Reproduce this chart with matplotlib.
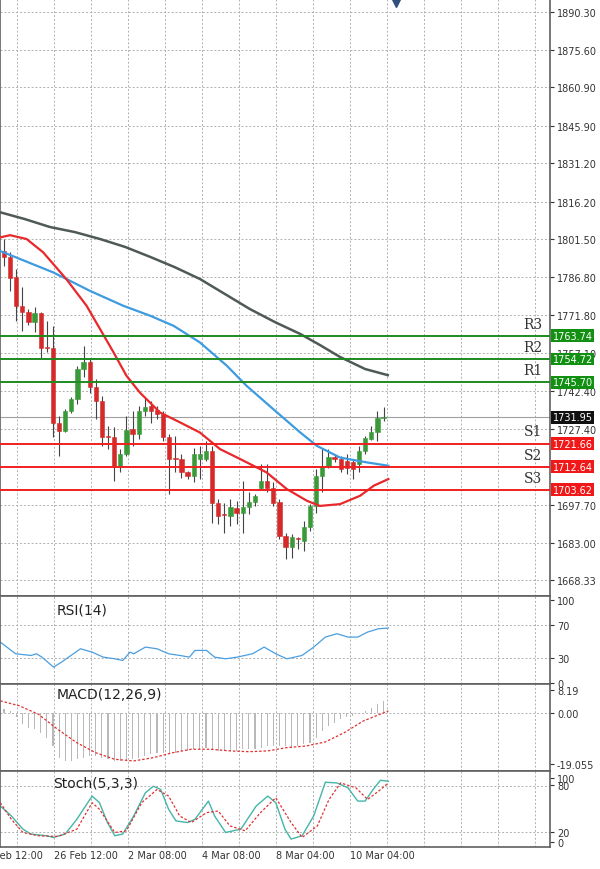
import matplotlib

matplotlib.use("Agg")
import matplotlib.pyplot as plt
from matplotlib.transforms import blended_transform_factory
import numpy as np

# candles: open, close, high, low (one per 4h bar)
opens = [1797.0, 1794.4, 1786.6, 1775.5, 1773.2, 1769.3, 1772.7, 1759.5, 1759.2, 1729.9,
         1726.7, 1734.5, 1739.0, 1750.8, 1753.6, 1743.6, 1738.4, 1724.7, 1724.4, 1713.0,
         1717.5, 1727.3, 1725.4, 1734.5, 1736.2, 1734.9, 1733.2, 1724.1, 1716.1, 1715.8,
         1710.4, 1709.1, 1715.8, 1715.6, 1718.8, 1698.6, 1694.3, 1693.4, 1696.3, 1694.7,
         1696.7, 1698.9, 1704.5, 1707.1, 1704.5, 1698.9, 1685.6, 1681.1, 1684.8, 1683.7,
         1688.9, 1697.3, 1709.1, 1713.0, 1716.6, 1715.6, 1714.9, 1714.3, 1713.6, 1718.8,
         1723.4, 1726.0, 1731.5]
closes = [1794.4, 1786.2, 1775.3, 1773.2, 1769.3, 1772.7, 1759.2, 1759.0, 1729.9, 1726.7,
          1734.5, 1739.0, 1751.0, 1753.6, 1743.6, 1738.4, 1724.1, 1724.2, 1713.0, 1717.5,
          1727.1, 1725.4, 1734.5, 1735.8, 1734.5, 1733.2, 1724.1, 1715.8, 1715.6, 1710.4,
          1709.1, 1717.5, 1717.5, 1718.8, 1698.6, 1693.4, 1693.8, 1696.7, 1694.7, 1696.7,
          1698.9, 1701.0, 1707.1, 1704.5, 1698.6, 1685.6, 1681.1, 1685.0, 1684.3, 1688.9,
          1697.3, 1709.1, 1713.0, 1716.6, 1715.6, 1711.9, 1712.3, 1711.7, 1718.8, 1723.7,
          1726.0, 1731.5, 1731.9]
highs = [1801.6, 1796.4, 1789.9, 1782.7, 1774.2, 1774.9, 1772.9, 1769.7, 1767.7, 1732.5,
         1735.1, 1739.7, 1752.1, 1759.9, 1755.3, 1746.9, 1740.3, 1728.6, 1728.0, 1719.5,
         1732.5, 1734.5, 1736.4, 1739.7, 1738.4, 1736.4, 1734.5, 1725.4, 1724.7, 1717.5,
         1711.0, 1720.1, 1720.8, 1722.8, 1720.8, 1699.9, 1698.6, 1699.9, 1699.3, 1707.1,
         1702.6, 1701.9, 1713.6, 1713.6, 1706.5, 1699.9, 1686.9, 1686.3, 1685.0, 1691.5,
         1698.0, 1711.7, 1720.1, 1719.5, 1717.5, 1716.9, 1717.5, 1715.6, 1720.8, 1724.7,
         1728.6, 1734.5, 1735.8]
lows = [1791.2, 1781.4, 1769.7, 1765.8, 1768.0, 1765.1, 1755.3, 1757.3, 1724.1, 1716.9,
        1726.0, 1733.8, 1737.1, 1747.5, 1741.6, 1731.2, 1720.8, 1719.5, 1707.1, 1710.4,
        1716.9, 1720.8, 1723.4, 1732.5, 1729.9, 1731.2, 1722.8, 1701.9, 1710.4, 1708.4,
        1708.0, 1706.5, 1707.8, 1714.9, 1690.8, 1690.2, 1686.9, 1689.5, 1690.2, 1686.9,
        1694.1, 1697.3, 1703.9, 1702.6, 1697.3, 1684.3, 1676.5, 1677.1, 1680.4, 1679.8,
        1687.6, 1694.7, 1702.6, 1712.3, 1714.3, 1710.4, 1709.7, 1707.8, 1710.4, 1717.5,
        1723.1, 1722.8, 1730.6]

# moving averages, sampled at bar positions
ma_slow_x = [-0.7, 3.4, 7.5, 11.6, 15.7, 19.8, 23.9, 27.9, 32.0, 36.1, 40.2, 44.3, 48.4,
             51.6, 54.9, 59.0, 62.7]
ma_slow = [1812.1, 1809.4, 1806.3, 1804.3, 1801.6, 1798.5, 1794.6, 1790.6, 1786.0, 1780.1,
           1774.2, 1769.1, 1764.5, 1760.2, 1755.5, 1750.8, 1748.4]
ma_mid_x = [-0.7, 8.1, 14.0, 19.5, 23.9, 27.7, 32.0, 36.4, 39.6, 44.0, 48.4, 51.1, 54.9, 59.3, 62.8]
ma_mid = [1797.0, 1788.5, 1781.4, 1775.5, 1771.6, 1767.7, 1761.2, 1752.1, 1744.3, 1735.1,
          1726.0, 1720.8, 1716.2, 1714.3, 1713.0]
ma_fast_x = [-0.7, 1.0, 3.7, 6.4, 10.2, 13.5, 15.7, 17.9, 20.0, 22.2, 25.5, 28.8, 32.0, 35.3,
             38.6, 42.9, 46.2, 49.5, 51.6, 54.9, 58.2, 60.4, 62.8]
ma_fast = [1802.2, 1803.1, 1801.6, 1796.4, 1785.9, 1775.5, 1766.4, 1757.3, 1748.2, 1741.6,
           1733.8, 1729.9, 1726.0, 1719.5, 1715.6, 1710.4, 1703.9, 1699.3, 1697.3, 1698.0,
           1701.3, 1705.2, 1707.8]

resist_names = ["R3", "R2", "R1"]
resist_levels = [1763.74, 1754.72, 1745.70]
support_names = ["S1", "S2", "S3"]
support_levels = [1721.66, 1712.64, 1703.62]
last_price = 1731.95

price_ticks = [1890.30, 1875.60, 1860.90, 1845.90, 1831.20, 1816.20, 1801.50, 1786.80,
               1771.80, 1757.10, 1742.40, 1727.40, 1697.70, 1683.00, 1668.33]

rsi_x = [-0.6, 1.9, 4.4, 5.3, 6.2, 8.1, 9.4, 12.5, 14.4, 16.2, 18.1, 19.4, 20.6, 21.2, 23.1,
         25.0, 26.9, 28.7, 30.3, 31.2, 33.1, 34.4, 36.2, 38.1, 40.6, 42.5, 44.4, 46.2, 47.5,
         48.7, 50.6, 52.5, 54.4, 56.2, 57.8, 59.4, 61.2, 62.8]
rsi = [49.2, 35.2, 33.2, 35.2, 31.2, 19.2, 25.2, 41.2, 37.2, 31.2, 29.2, 27.2, 37.2, 35.2,
       43.2, 41.2, 35.2, 33.2, 31.2, 39.2, 39.2, 31.2, 29.2, 31.2, 35.2, 43.2, 35.2, 29.2,
       31.2, 33.2, 43.2, 55.2, 59.2, 55.2, 55.2, 61.2, 65.2, 66.0]

macd_hist = [1.2, 0.6, -1.8, -4.3, -5.5, -6.2, -7.4, -9.2, -12.3, -16.6, -17.8, -17.8, -17.2,
             -16.6, -16.0, -16.0, -16.6, -17.2, -17.8, -17.8, -17.8, -17.2, -16.6, -16.0,
             -15.4, -14.8, -14.8, -14.8, -14.8, -14.1, -14.1, -13.5, -13.5, -12.9, -13.5,
             -14.1, -14.1, -14.1, -14.1, -13.5, -13.5, -13.5, -12.9, -12.3, -12.3, -12.3,
             -12.3, -12.9, -12.3, -11.7, -11.1, -9.2, -6.8, -4.9, -3.7, -2.5, -1.8, -1.2,
             -0.6, 0.6, 1.8, 3.1, 4.3]
macd_sig_x = [-0.6, 2.5, 5.6, 8.8, 11.9, 15.0, 18.1, 21.2, 24.4, 27.5, 30.6, 33.7, 36.9, 40.0,
              43.1, 46.2, 49.4, 52.5, 55.6, 58.7, 62.8]
macd_sig = [4.3, 2.5, -0.6, -6.2, -11.1, -14.8, -17.2, -17.8, -16.6, -14.8, -13.5, -13.5,
            -14.1, -14.4, -14.1, -12.9, -12.3, -10.8, -7.4, -3.1, 0.6]

stoch_k_x = [-0.6, 1.2, 3.1, 4.4, 6.9, 8.1, 10.0, 11.9, 14.4, 15.6, 16.9, 18.1, 19.4, 21.2,
             23.1, 24.4, 25.6, 26.9, 28.1, 30.0, 31.2, 33.4, 34.4, 36.2, 38.7, 41.2, 43.1,
             44.4, 45.9, 46.9, 48.7, 50.6, 52.5, 54.4, 56.2, 57.8, 59.0, 60.3, 61.5, 62.8]
stoch_k = [53.9, 40.9, 23.5, 17.0, 14.8, 12.6, 17.0, 36.5, 67.0, 58.3, 32.2, 14.8, 17.0,
           40.9, 71.3, 80.0, 75.7, 49.6, 34.3, 32.2, 36.5, 60.4, 40.9, 19.1, 23.5, 53.9,
           67.0, 58.3, 23.5, 10.4, 14.8, 40.9, 85.2, 84.3, 77.8, 60.4, 60.4, 75.7, 87.8, 86.5]
stoch_d_x = [-0.6, 1.2, 3.1, 5.6, 8.8, 11.9, 14.4, 15.6, 18.1, 20.0, 22.5, 25.0, 26.9, 28.7,
             30.6, 33.1, 35.0, 36.9, 39.4, 41.9, 44.4, 46.9, 48.7, 51.2, 53.1, 55.0, 57.5,
             59.4, 61.2, 62.8]
stoch_d = [58.3, 36.5, 19.1, 14.8, 13.9, 23.5, 58.3, 49.6, 19.1, 21.3, 58.3, 75.7, 67.0,
           40.9, 32.2, 45.2, 47.4, 27.8, 21.3, 45.2, 64.8, 32.2, 12.6, 27.8, 62.6, 84.3,
           77.8, 62.6, 73.5, 84.3]

date_labels = ["24 Feb 12:00", "26 Feb 12:00", "2 Mar 08:00", "4 Mar 08:00", "8 Mar 04:00",
               "10 Mar 04:00"]

UP = "#3a9a3a"
DOWN = "#d42a2a"
GRID = "#b0b0b0"
FRAME = "#606060"
XLIM = (-0.65, 89.2)
grid_x = 2.1 + 6.05 * np.arange(15)
label_x = [-4.0, 8.2, 20.3, 32.4, 44.4, 56.5]

W, H = 600, 870
fig = plt.figure(figsize=(W / 100, H / 100), dpi=100)
fig.patch.set_facecolor("white")


def panel(top, bottom):
    ax = fig.add_axes([0, 1 - bottom / H, 550 / W, (bottom - top) / H])
    ax.set_xlim(*XLIM)
    ax.set_xticks([])
    ax.yaxis.tick_right()
    ax.tick_params(axis="y", length=3, pad=2, labelsize=7, colors="#333333")
    for s in ax.spines.values():
        s.set_color(FRAME)
        s.set_linewidth(1.2)
    for gx in grid_x:
        ax.axvline(gx, color=GRID, lw=0.7, ls=(0, (2, 2)), zorder=0)
    return ax


# main price panel
ax = panel(0, 597)
ax.set_ylim(1662.1, 1895.4)
ax.set_yticks(price_ticks)
ax.set_yticklabels([f"{t:.2f}" for t in price_ticks])
for t in price_ticks:
    ax.axhline(t, color=GRID, lw=0.7, ls=(0, (2, 2)), zorder=0)

idx = np.arange(len(opens))
for i, o, c, h, l in zip(idx, opens, closes, highs, lows):
    col = UP if c >= o else DOWN
    ax.vlines(i, l, h, color="#444444", lw=0.8, zorder=2)
    body = max(abs(c - o), 0.3)
    ax.bar(i, body, bottom=min(o, c), width=0.7, color=col, edgecolor=col,
           linewidth=0.4, zorder=3)

ax.plot(ma_slow_x, ma_slow, color="#505a55", lw=1.8, zorder=4)
ax.plot(ma_mid_x, ma_mid, color="#3d9be0", lw=1.6, zorder=4)
ax.plot(ma_fast_x, ma_fast, color="#e8282a", lw=1.6, zorder=4)

ax.axhline(last_price, color="#a0a0a0", lw=0.8, zorder=1)
trans = blended_transform_factory(ax.transAxes, ax.transData)
for name, lvl in zip(resist_names, resist_levels):
    ax.axhline(lvl, color="#1f8a1f", lw=1.4, zorder=5)
    ax.text(86.4, lvl + 2.0, name, fontsize=10, family="DejaVu Serif", color="#333333",
            ha="center", va="bottom")
    ax.text(1.005, lvl, f"{lvl:.2f}", transform=trans, fontsize=7, color="white",
            va="center", ha="left", bbox=dict(boxstyle="square,pad=0.15", fc="#129012", ec="none"))
for name, lvl in zip(support_names, support_levels):
    ax.axhline(lvl, color="#f02020", lw=1.4, zorder=5)
    ax.text(86.4, lvl + 2.0, name, fontsize=10, family="DejaVu Serif", color="#333333",
            ha="center", va="bottom")
    ax.text(1.005, lvl, f"{lvl:.2f}", transform=trans, fontsize=7, color="white",
            va="center", ha="left", bbox=dict(boxstyle="square,pad=0.15", fc="#f01818", ec="none"))
ax.text(1.005, last_price, f"{last_price:.2f}", transform=trans, fontsize=7, color="white",
        va="center", ha="left", bbox=dict(boxstyle="square,pad=0.15", fc="#101010", ec="none"))
ax.plot([64.0], [1894.0], marker="v", color="#2f4f7f", ms=6, clip_on=False, zorder=6)

# RSI
ax_rsi = panel(597, 685)
ax_rsi.set_ylim(-1, 104.4)
ax_rsi.set_yticks([100, 70, 30, 0])
for t in (70, 30):
    ax_rsi.axhline(t, color=GRID, lw=0.7, ls=(0, (2, 2)), zorder=0)
ax_rsi.plot(rsi_x, rsi, color="#4a9ee0", lw=0.9)
ax_rsi.text(8.6, 97, "RSI(14)", fontsize=10, va="top", color="#222222")

# MACD
ax_macd = panel(685, 772)
ax_macd.set_ylim(-21.5, 10.5)
ax_macd.set_yticks([8.19, 0.0, -19.055])
ax_macd.set_yticklabels(["8.19", "0.00", "-19.055"])
ax_macd.axhline(0, color=GRID, lw=0.7, ls=(0, (2, 2)), zorder=0)
ax_macd.bar(idx, macd_hist, width=0.18, color="#b8b8b8", zorder=1)
ax_macd.plot(macd_sig_x, macd_sig, color="#e03030", lw=0.9, ls=(0, (2, 1.5)), zorder=2)
ax_macd.text(8.6, 9.3, "MACD(12,26,9)", fontsize=10, va="top", color="#222222")

# Stochastic
ax_st = panel(772, 848)
ax_st.set_ylim(0, 100)
ax_st.set_yticks([91, 82, 20, 7])
ax_st.set_yticklabels(["100", "80", "20", "0"])
for t in (80, 20):
    ax_st.axhline(t, color=GRID, lw=0.7, ls=(0, (2, 2)), zorder=0)
ax_st.plot(stoch_k_x, stoch_k, color="#45b5a8", lw=1.0)
ax_st.plot(stoch_d_x, stoch_d, color="#e03030", lw=0.9, ls=(0, (2, 1.5)))
ax_st.text(8.1, 94, "Stoch(5,3,3)", fontsize=10, va="top", color="#222222")

for lx, lab in zip(label_x, date_labels):
    ax_st.text(lx, -4, lab, fontsize=7, ha="left", va="top", color="#333333", clip_on=False)

fig.savefig("out.png", dpi=100, facecolor="white")
